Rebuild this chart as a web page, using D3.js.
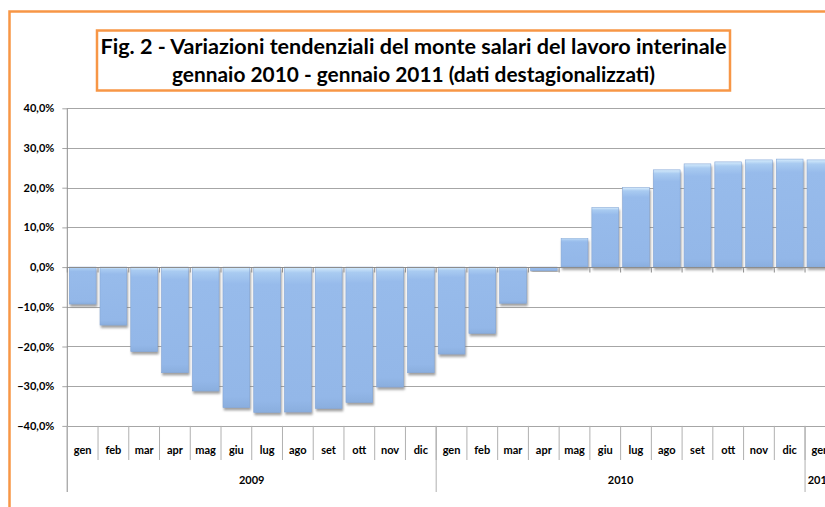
<!DOCTYPE html>
<html>
<head>
<meta charset="utf-8">
<script src="https://cdn.jsdelivr.net/npm/d3@7"></script>
<style>
  body { margin: 0; background: #fff; }
  svg { display: block; font-family: Lato, "Liberation Sans", sans-serif; }
</style>
</head>
<body>
<svg id="chart" width="825" height="507"></svg>
<script>
// months and years of the category axis
months = ["gen", "feb", "mar", "apr", "mag", "giu", "lug", "ago", "set", "ott", "nov", "dic"]
years = ["2009", "2010", "2011"]
monthsPerYear = [12, 12, 1]

// variazioni tendenziali (%)
values2009 = [-9.3, -14.6, -21.3, -26.6, -31.2, -35.4, -36.6, -36.5, -35.6, -34.1, -30.2, -26.6]
values2010 = [-21.9, -16.7, -9.1, -0.9, 7.2, 15.0, 20.0, 24.5, 26.0, 26.5, 27.0, 27.2]
values2011 = [27.0]

yTicks = [-40, -30, -20, -10, 0, 10, 20, 30, 40]
titleLines = [
    "Fig. 2 - Variazioni tendenziali del monte salari del lavoro interinale",
    "gennaio 2010 - gennaio 2011 (dati destagionalizzati)"
]

const allValues = [values2009, values2010, values2011]
const data = []
allValues.forEach((vals, yi) => {
    vals.forEach((v, mi) => data.push({ key: years[yi] + "-" + mi, month: months[mi], year: years[yi], value: v }))
})

const plotLeft = 67.3, plotRight = 835.8, plotTop = 108.3, plotBottom = 425.9
const orange = "#f79646"
const grid = "#a6a6a6"

const svg = d3.select("#chart")

const x = d3.scaleBand().domain(data.map(d => d.key)).range([plotLeft, plotRight]).padding(0)
const xBar = d3.scaleBand().domain(data.map(d => d.key)).range([plotLeft, plotRight])
    .paddingInner(0.13).paddingOuter(0.065)
const y = d3.scaleLinear().domain([-40, 40]).range([plotBottom, plotTop])

const it = d3.formatLocale({ decimal: ",", thousands: ".", grouping: [3], currency: ["", "€"] })
const fmt = it.format(".1f")

const defs = svg.append("defs")
const grad = defs.append("linearGradient").attr("id", "barFill")
    .attr("x1", 0).attr("y1", 0).attr("x2", 0).attr("y2", 1)
grad.append("stop").attr("offset", 0).attr("stop-color", "#d6ecfc")
grad.append("stop").attr("offset", 0.04).attr("stop-color", "#a9cbf1")
grad.append("stop").attr("offset", 0.12).attr("stop-color", "#97bbeb")
grad.append("stop").attr("offset", 0.92).attr("stop-color", "#93b7e8")
grad.append("stop").attr("offset", 1).attr("stop-color", "#8aaede")

const shadow = defs.append("filter").attr("id", "shadow")
    .attr("x", "-10%").attr("y", "-10%").attr("width", "130%").attr("height", "130%")
shadow.append("feDropShadow").attr("dx", 1).attr("dy", 2.5).attr("stdDeviation", 0.8)
    .attr("flood-color", "#777").attr("flood-opacity", 0.7)

// outer frame, cut by the window on right and bottom
svg.append("rect")
    .attr("x", 9.5).attr("y", 11.5).attr("width", 900).attr("height", 600)
    .attr("fill", "none").attr("stroke", orange).attr("stroke-width", 2.5)

// gridlines
svg.append("g")
    .selectAll("line")
    .data(yTicks)
    .join("line")
    .attr("x1", plotLeft).attr("x2", plotRight)
    .attr("y1", d => Math.round(y(d)) + 0.5).attr("y2", d => Math.round(y(d)) + 0.5)
    .attr("stroke", grid)

// y axis
const yAxis = svg.append("g")
    .attr("transform", `translate(${plotLeft},0)`)
    .call(d3.axisLeft(y).tickValues(yTicks).tickSize(5).tickPadding(8).tickFormat(d => fmt(d) + "%"))
yAxis.select(".domain").remove()
yAxis.selectAll("line").attr("stroke", grid)
yAxis.selectAll("text")
    .attr("font-family", "Lato, sans-serif")
    .attr("font-size", 11)
    .attr("font-weight", "bold")
    .attr("fill", "#000")

// bars
svg.append("g")
    .selectAll("rect")
    .data(data)
    .join("rect")
    .attr("x", d => xBar(d.key))
    .attr("width", xBar.bandwidth())
    .attr("y", d => y(Math.max(0, d.value)))
    .attr("height", d => Math.abs(y(d.value) - y(0)))
    .attr("fill", "url(#barFill)")
    .attr("stroke", "#86a8d8")
    .attr("stroke-width", 0.6)
    .attr("filter", "url(#shadow)")

// category axis line at zero with tick marks
const zeroY = Math.round(y(0)) + 0.5
svg.append("line")
    .attr("x1", plotLeft).attr("x2", plotRight).attr("y1", zeroY).attr("y2", zeroY)
    .attr("stroke", "#8c8c8c")
svg.append("g")
    .selectAll("line")
    .data(data)
    .join("line")
    .attr("x1", d => x(d.key)).attr("x2", d => x(d.key))
    .attr("y1", zeroY).attr("y2", zeroY + 5)
    .attr("stroke", "#8c8c8c")

// vertical axis line, continuing down as label separator
svg.append("line")
    .attr("x1", plotLeft).attr("x2", plotLeft).attr("y1", plotTop).attr("y2", 492)
    .attr("stroke", "#8c8c8c")

// month separators and labels
const labelG = svg.append("g")
labelG.selectAll("line.sep")
    .data(data)
    .join("line")
    .attr("class", "sep")
    .attr("x1", d => x(d.key)).attr("x2", d => x(d.key))
    .attr("y1", plotBottom).attr("y2", 460)
    .attr("stroke", "#b0b0b0")
labelG.selectAll("text")
    .data(data)
    .join("text")
    .attr("x", d => x(d.key) + x.bandwidth() / 2)
    .attr("y", 453.5)
    .attr("text-anchor", "middle")
    .attr("font-size", 11)
    .attr("font-weight", "bold")
    .text(d => d.month)

// year groups
let start = 0
const yearSpans = years.map((yr, i) => {
    const s = { year: yr, from: data[start].key, to: data[start + monthsPerYear[i] - 1].key }
    start += monthsPerYear[i]
    return s
})
const yearG = svg.append("g")
yearG.selectAll("line")
    .data(yearSpans)
    .join("line")
    .attr("x1", d => x(d.from)).attr("x2", d => x(d.from))
    .attr("y1", plotBottom).attr("y2", 492)
    .attr("stroke", "#b0b0b0")
yearG.selectAll("text")
    .data(yearSpans)
    .join("text")
    .attr("x", d => (x(d.from) + x(d.to) + x.bandwidth()) / 2)
    .attr("y", 484)
    .attr("text-anchor", "middle")
    .attr("font-size", 11)
    .attr("font-weight", "bold")
    .text(d => d.year)

// title box
svg.append("rect")
    .attr("x", 97).attr("y", 30.5).attr("width", 633).attr("height", 60)
    .attr("fill", "#fff").attr("stroke", orange).attr("stroke-width", 2.5)
const titleWidths = [626, 483]
svg.append("g")
    .selectAll("text")
    .data(titleLines)
    .join("text")
    .attr("x", 413.5)
    .attr("y", (d, i) => 54 + i * 28)
    .attr("text-anchor", "middle")
    .attr("font-size", 20)
    .attr("font-weight", "bold")
    .attr("textLength", (d, i) => titleWidths[i])
    .attr("lengthAdjust", "spacingAndGlyphs")
    .text(d => d)
</script>
</body>
</html>
